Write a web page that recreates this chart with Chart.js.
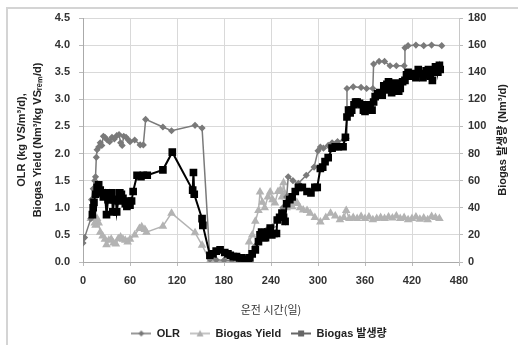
<!DOCTYPE html>
<html>
<head>
<meta charset="utf-8">
<script src="https://cdn.jsdelivr.net/npm/chart.js@4/dist/chart.umd.min.js"></script>
<style>
  html, body { margin: 0; padding: 0; background: #fff; }
  #wrap { width: 518px; height: 345px; }
</style>
</head>
<body>
<div id="wrap"><canvas id="chart" width="518" height="345"></canvas></div>
<script>
// 데이터
const xTicks = [0, 60, 120, 180, 240, 300, 360, 420, 480];
const leftTicks = [0, 0.5, 1, 1.5, 2, 2.5, 3, 3.5, 4, 4.5];
const rightTicks = [0, 20, 40, 60, 80, 100, 120, 140, 160, 180];

const olrDays = [0, 2, 10, 11, 13, 15, 16, 17, 18, 20, 22, 24, 26, 28, 31, 34, 37, 40, 43, 46, 48, 50, 52, 55, 58, 60, 66, 73, 77, 80,
  102, 113, 143, 152, 162, 170, 180, 190, 200, 208, 211, 213, 220, 228, 235, 242, 248, 255, 260, 262, 268, 275, 285, 295, 300,
  303, 307, 313, 318, 325, 333, 336, 337, 345, 355, 362, 370, 371, 378, 385, 392, 400, 410, 411, 415, 425, 435, 445, 458];
const olrValues = [0.35, 0.45, 0.8, 1.15, 1.35, 1.5, 1.57, 1.93, 2.07, 2.12, 2.2, 2.15, 2.32, 2.3, 2.25, 2.22, 2.3, 2.27, 2.33, 2.35, 2.2, 2.15, 2.32, 2.3, 2.25, 2.22, 2.25, 2.16, 2.16, 2.63,
  2.49, 2.42, 2.52, 2.47, 0.05, 0.04, 0.03, 0.03, 0.02, 0.02, 0.05, 0.1, 0.3, 0.55, 0.6, 0.65, 0.8, 1.0, 1.2, 1.57, 1.5, 1.45, 1.6, 1.75, 2.05,
  2.12, 2.1, 2.15, 2.2, 2.22, 2.25, 2.28, 3.2, 3.23, 3.22, 3.2, 3.2, 3.65, 3.7, 3.7, 3.62, 3.62, 3.62, 3.95, 3.99, 4.0, 3.99, 4.0, 3.99];

const yieldDays = [10, 13, 15, 16, 18, 20, 22, 25, 28, 30, 33, 36, 39, 42, 45, 48, 51, 54, 57, 60, 66, 72, 75, 79, 81,
  102, 113, 143, 152, 162, 170, 180, 190, 200, 211, 212, 216, 220, 224, 226, 229, 232, 236, 239, 242, 245, 249, 252, 254, 256, 258, 260,
  264, 267, 270, 273, 277, 281, 286, 290, 296, 303, 310, 316, 322, 328, 333, 336, 340, 345, 350, 355, 360, 365, 370, 375, 380, 385,
  390, 395, 400, 405, 410, 415, 420, 425, 430, 435, 440, 445, 450, 455];
const yieldValues = [0.8, 0.85, 0.72, 0.68, 0.8, 0.72, 0.55, 0.48, 0.42, 0.32, 0.4, 0.42, 0.35, 0.33, 0.43, 0.46, 0.42, 0.4, 0.37, 0.42, 0.5, 0.62, 0.65, 0.6, 0.55,
  0.66, 0.9, 0.54, 0.31, 0.02, 0.01, 0.01, 0.02, 0.01, 0.02, 0.37, 0.5, 0.75, 0.95, 1.29, 1.1, 1.0, 1.2, 1.29, 1.15, 1.09, 1.3, 1.33, 1.2, 1.46, 1.25, 1.0,
  1.05, 1.02, 1.08, 1.1, 1.0, 0.96, 0.95, 0.9, 0.82, 0.74, 0.82, 0.9, 0.85, 0.78, 0.82, 0.95, 0.8, 0.82, 0.8, 0.84, 0.8, 0.83, 0.78, 0.8, 0.82, 0.8,
  0.83, 0.81, 0.85, 0.8, 0.82, 0.78, 0.8, 0.83, 0.79, 0.81, 0.78, 0.84, 0.82, 0.8];

const gasDays = [12, 13, 14, 16, 18, 20, 22, 24, 26, 28, 30, 32, 34, 36, 37, 38, 40, 42, 43, 45, 47, 49, 51, 54, 56, 58, 60, 62, 64, 69, 74, 77, 82,
  102, 114, 140, 141, 142, 152, 153, 162, 166, 170, 175, 181, 185, 188, 192, 196, 200, 203, 207, 211, 213, 216, 220, 224, 226, 228, 231, 233,
  236, 239, 241, 244, 247, 248, 251, 254, 256, 258, 260, 264, 267, 271, 275, 280, 286, 291, 296, 299, 303, 306, 309, 313, 318, 322, 326, 332,
  335, 337, 339, 341, 343, 346, 348, 350, 353, 356, 358, 360, 363, 366, 369, 371, 373, 376, 379, 382, 384, 386, 388, 390, 392, 394, 397, 399,
  401, 403, 405, 408, 411, 413, 415, 418, 420, 422, 425, 428, 431, 434, 436, 438, 441, 443, 446, 448, 450, 452, 453, 455, 456];
const gasValues = [35, 40, 44, 50, 55, 57, 53, 51, 48, 51, 35, 46, 51, 46, 51, 37, 46, 46, 37, 45, 51, 50, 47, 43, 41, 45, 42, 45, 52, 64, 63, 64, 64,
  68, 81, 53, 66, 50, 32, 27, 5, 6, 8, 9, 7, 6, 5, 4, 4, 3, 3, 2, 0, 3, 6, 9, 15, 20, 22, 18, 18,
  22, 25, 20, 21, 21, 31, 33, 36, 33, 30, 43, 46, 48, 52, 55, 55, 52, 51, 55, 55, 69, 70, 74, 77, 84, 85, 85, 85,
  92, 107, 112, 110, 112, 116, 118, 118, 117, 116, 112, 111, 116, 113, 112, 118, 122, 124, 125, 123, 130, 127, 131, 133, 128, 125, 129, 132,
  131, 126, 128, 133, 134, 138, 140, 137, 139, 138, 136, 142, 139, 136, 138, 141, 142, 137, 134, 140, 144, 143, 140, 145, 142];

const seriesNames = ['OLR', 'Biogas Yield', 'Biogas 발생량'];
const xTitle = '운전 시간(일)';
const leftTitle = ['OLR (kg VS/m³/d),', 'Biogas Yield (Nm³/kg VSᵣₑₘ/d)'];
const rightTitle = 'Biogas 발생량 (Nm³/d)';

const FONT = '"Liberation Sans", Arial, "Noto Sans CJK KR", sans-serif';
const toPoints = (xs, ys) => xs.map((d, i) => ({ x: d, y: ys[i] }));

// 범례용 아이콘 (선 + 마커)
function makeIcon(color, shape, lw) {
  const cv = document.createElement('canvas');
  cv.width = 20; cv.height = 10;
  const c = cv.getContext('2d');
  c.strokeStyle = color; c.fillStyle = color; c.lineWidth = lw;
  c.beginPath(); c.moveTo(0, 5); c.lineTo(20, 5); c.stroke();
  c.beginPath();
  if (shape === 'diamond') { c.moveTo(10, 2); c.lineTo(13, 5); c.lineTo(10, 8); c.lineTo(7, 5); }
  else if (shape === 'triangle') { c.moveTo(10, 1.5); c.lineTo(13.5, 8); c.lineTo(6.5, 8); }
  else { c.rect(7, 2, 6, 6); }
  c.closePath(); c.fill();
  return cv;
}
const icons = [makeIcon('#777', 'diamond', 1.5), makeIcon('#b0b0b0', 'triangle', 1.5), makeIcon('#666', 'square', 2)];

// 바깥 테두리
const framePlugin = {
  id: 'frame',
  beforeDraw(chart) {
    const ctx = chart.ctx;
    ctx.save();
    ctx.strokeStyle = '#d4d4d4';
    ctx.lineWidth = 2;
    ctx.beginPath();
    ctx.moveTo(7, 345); ctx.lineTo(7, 8); ctx.lineTo(518, 8);
    ctx.stroke();
    ctx.restore();
  }
};

// 오른쪽 축 제목 (아래에서 위로 읽기)
const rightTitlePlugin = {
  id: 'rightTitle',
  afterDraw(chart) {
    const { ctx, chartArea } = chart;
    const s = chart.scales.y2;
    ctx.save();
    ctx.translate(s.right - 15, (chartArea.top + chartArea.bottom) / 2);
    ctx.rotate(-Math.PI / 2);
    ctx.font = 'bold 11px ' + FONT;
    ctx.fillStyle = '#222';
    ctx.textAlign = 'center';
    ctx.textBaseline = 'middle';
    ctx.fillText(rightTitle, 0, 0);
    ctx.restore();
  }
};

new Chart(document.getElementById('chart'), {
  type: 'line',
  data: {
    datasets: [
      {
        label: seriesNames[0],
        data: toPoints(olrDays, olrValues),
        yAxisID: 'y',
        borderColor: '#7a7a7a',
        backgroundColor: '#7a7a7a',
        borderWidth: 1.5,
        pointStyle: 'rectRot',
        pointRadius: 2.5,
        order: 1
      },
      {
        label: seriesNames[1],
        data: toPoints(yieldDays, yieldValues),
        yAxisID: 'y',
        borderColor: '#b3b3b3',
        backgroundColor: '#b3b3b3',
        borderWidth: 1.5,
        pointStyle: 'triangle',
        pointRadius: 3.5,
        order: 2
      },
      {
        label: seriesNames[2],
        data: toPoints(gasDays, gasValues),
        yAxisID: 'y2',
        borderColor: '#000',
        backgroundColor: '#000',
        borderWidth: 2,
        pointStyle: 'rect',
        pointRadius: 4,
        order: 0
      }
    ]
  },
  options: {
    responsive: false,
    animation: false,
    devicePixelRatio: 1,
    layout: { padding: { top: 18, left: 0, right: 0, bottom: -4 } },
    plugins: {
      tooltip: { enabled: false },
      legend: {
        position: 'bottom',
        labels: {
          usePointStyle: true,
          pointStyleWidth: 20,
          padding: 10,
          color: '#222',
          font: { family: FONT, size: 11, weight: 'bold' },
          generateLabels(chart) {
            const items = Chart.defaults.plugins.legend.labels.generateLabels(chart);
            items.forEach(it => { it.pointStyle = icons[it.datasetIndex]; });
            return items.sort((a, b) => a.datasetIndex - b.datasetIndex);
          }
        }
      }
    },
    scales: {
      x: {
        type: 'linear',
        min: 0, max: 480,
        afterBuildTicks(s) { s.ticks = xTicks.map(v => ({ value: v })); },
        afterFit(s) { s.height = 56; },
        grid: { color: '#d9d9d9', tickLength: 4, tickColor: '#bbb' },
        border: { color: '#aaa' },
        ticks: { padding: 8, color: '#333', font: { family: FONT, size: 11, weight: 'bold' }, maxRotation: 0 },
        title: {
          display: true,
          text: xTitle,
          color: '#333',
          padding: { top: 4, bottom: 2 },
          font: { family: '"Noto Sans CJK KR", sans-serif', size: 11 }
        }
      },
      y: {
        position: 'left',
        min: 0, max: 4.5,
        afterBuildTicks(s) { s.ticks = leftTicks.map(v => ({ value: v })); },
        afterFit(s) { s.width = 83; },
        grid: { color: '#d9d9d9', tickLength: 4, tickColor: '#bbb' },
        border: { color: '#aaa' },
        ticks: {
          padding: 9, color: '#333',
          font: { family: FONT, size: 11, weight: 'bold' },
          callback: v => v.toFixed(1)
        },
        title: {
          display: true,
          text: leftTitle,
          color: '#222',
          padding: { top: 14, bottom: 0 },
          font: { family: FONT, size: 11, weight: 'bold', lineHeight: 1.45 }
        }
      },
      y2: {
        position: 'right',
        min: 0, max: 180,
        afterBuildTicks(s) { s.ticks = rightTicks.map(v => ({ value: v })); },
        afterFit(s) { s.width = 59; },
        grid: { drawOnChartArea: false, tickLength: 4, tickColor: '#bbb' },
        border: { color: '#c8c8c8' },
        ticks: { padding: 5, color: '#333', font: { family: FONT, size: 11, weight: 'bold' } }
      }
    }
  },
  plugins: [framePlugin, rightTitlePlugin]
});
</script>
</body>
</html>
